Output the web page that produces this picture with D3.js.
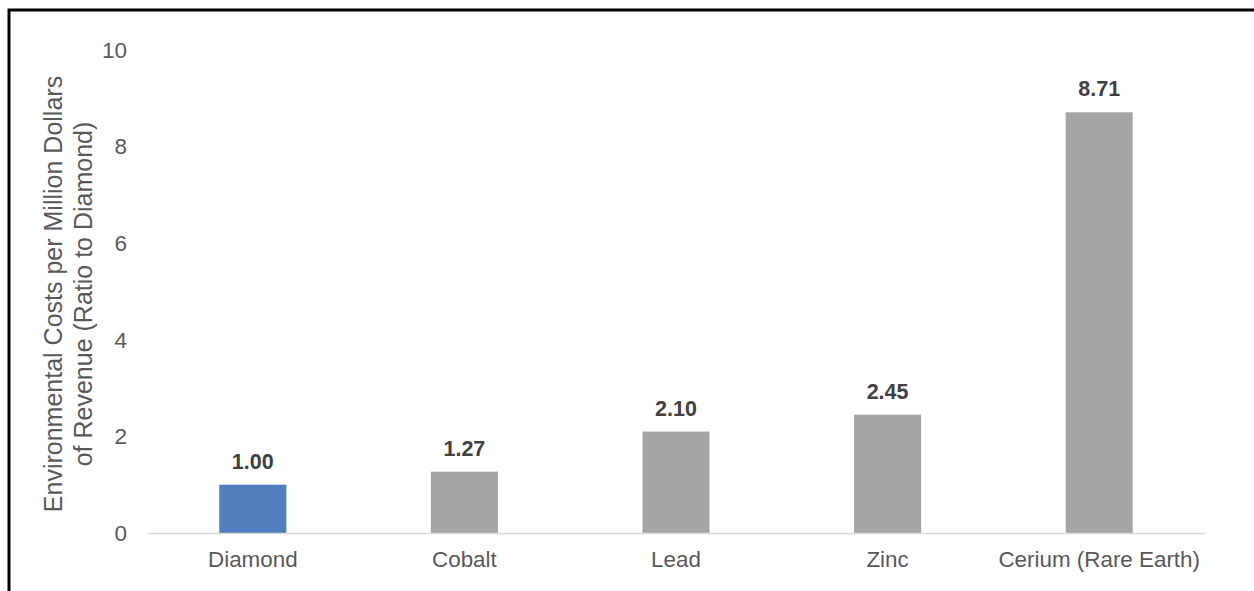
<!DOCTYPE html>
<html>
<head>
<meta charset="utf-8">
<script src="https://cdn.jsdelivr.net/npm/d3@7"></script>
<style>
  html, body { margin: 0; padding: 0; background: #fff; }
  svg { display: block; font-family: "Liberation Sans", Arial, sans-serif; }
</style>
</head>
<body>
<svg id="chart" width="1254" height="591"></svg>
<script>
// Environmental cost ratios by mined commodity (Diamond = 1)
const categories = ["Diamond", "Cobalt", "Lead", "Zinc", "Cerium (Rare Earth)"];
const values = [1.00, 1.27, 2.10, 2.45, 8.71];
const yTicks = [0, 2, 4, 6, 8, 10];
const titleLines = ["Environmental Costs per Million Dollars", "of Revenue (Ratio to Diamond)"];

const svg = d3.select("#chart");

// frame (runs off the right and bottom edges)
svg.append("rect")
  .attr("x", 9).attr("y", 10)
  .attr("width", 1260).attr("height", 600)
  .attr("fill", "none").attr("stroke", "#000").attr("stroke-width", 3);

const x = d3.scaleBand()
  .domain(categories)
  .range([147, 1205])
  .paddingInner(0.683)
  .paddingOuter(0.3415);

const y = d3.scaleLinear().domain([0, 10]).range([533, 50]);

// y tick labels (no axis line)
const yAxis = svg.append("g")
  .attr("transform", "translate(127,0)")
  .call(d3.axisLeft(y).tickValues(yTicks).tickSize(0).tickPadding(0).tickFormat(d3.format("d")));
yAxis.select(".domain").remove();
yAxis.selectAll("text")
  .attr("fill", "#595959")
  .style("font-size", "22.5px")
  .style("font-family", "'Liberation Sans', Arial, sans-serif");

// bars
svg.append("g").selectAll("rect")
  .data(values)
  .join("rect")
  .attr("x", (d, i) => x(categories[i]))
  .attr("y", d => y(d))
  .attr("width", x.bandwidth())
  .attr("height", d => y(0) - y(d))
  .attr("fill", (d, i) => i === 0 ? "#4f7fbd" : "#a5a5a5");

// baseline / category axis
const xAxis = svg.append("g")
  .attr("transform", `translate(0,${y(0)})`)
  .call(d3.axisBottom(x).tickSize(0).tickPadding(18));
xAxis.select(".domain").attr("stroke", "#d9d9d9").attr("stroke-width", 1.5);
xAxis.selectAll("text")
  .attr("fill", "#595959")
  .style("font-size", "22.4px")
  .style("font-family", "'Liberation Sans', Arial, sans-serif");

// value labels
svg.append("g").selectAll("text")
  .data(values)
  .join("text")
  .attr("x", (d, i) => x(categories[i]) + x.bandwidth() / 2)
  .attr("y", d => y(d) - 16)
  .attr("text-anchor", "middle")
  .attr("fill", "#404040")
  .style("font-size", "21.5px")
  .style("font-weight", "bold")
  .text(d => d.toFixed(2));

// y axis title
const title = svg.append("text")
  .attr("transform", "translate(62,294) rotate(-90)")
  .attr("text-anchor", "middle")
  .attr("fill", "#595959")
  .style("font-size", "25px");
title.selectAll("tspan")
  .data(titleLines)
  .join("tspan")
  .attr("x", 0)
  .attr("dy", (d, i) => i === 0 ? 0 : 30)
  .text(d => d);
</script>
</body>
</html>
